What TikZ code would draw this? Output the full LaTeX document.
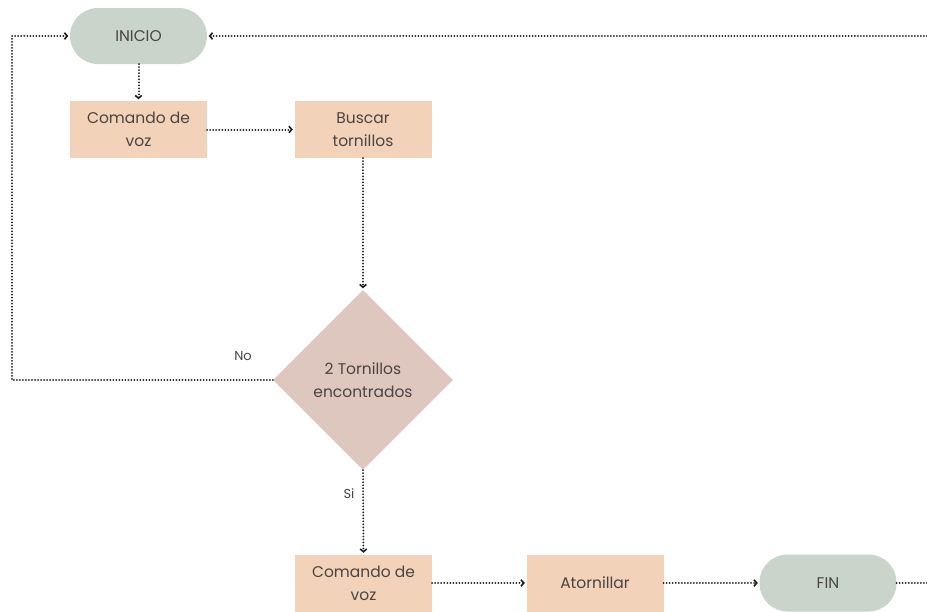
\documentclass[tikz,border=0pt]{standalone}
\usepackage{fontspec}
\setmainfont{Poppins}
\usetikzlibrary{arrows.meta,shapes.geometric}
\definecolor{sage}{HTML}{C9D4CB}
\definecolor{peach}{HTML}{F2D2B9}
\definecolor{mauve}{HTML}{DDC7BE}
\definecolor{ink}{HTML}{4A4543}
\definecolor{wire}{HTML}{1E1E1E}
\tikzset{
  base/.style={draw=none, text=ink, font=\fontsize{15.5}{23}\selectfont, align=center, inner sep=0pt},
  terminal/.style={base, fill=sage, rectangle, rounded corners=28pt, minimum width=137pt, minimum height=56pt},
  procbox/.style={base, fill=peach, rectangle, minimum width=137pt, minimum height=57pt},
  decision/.style={base, fill=mauve, diamond, aspect=1, minimum width=180pt, minimum height=180pt},
  wirestyle/.style={draw=wire, line width=2pt, line cap=round, dash pattern=on 0.01pt off 3pt},
  flow/.style={wirestyle, -{Straight Barb[length=2.8pt, width=6.5pt, line width=1.6pt, line cap=butt]}, shorten >=1.5pt},
  lbl/.style={text=ink, font=\fontsize{13}{15}\selectfont, inner sep=0pt}
}
\begin{document}
\begin{tikzpicture}[x=1pt, y=-1pt]
\useasboundingbox (0,0) rectangle (927,611);
\fill[white] (0,0) rectangle (927,611);
\clip (0,0) rectangle (927,611);

% nodes
\node[terminal] (inicio) at (138.5,36) {INICIO};
\node[procbox] (cmd1) at (138.5,129.5) {Comando de\\voz};
\node[procbox] (buscar) at (363,129.5) {Buscar\\tornillos};
\node[decision] (dec) at (363,380) {2 Tornillos\\encontrados};
\node[procbox] (cmd2) at (363.5,583) {Comando de\\voz};
\node[procbox] (aton) at (595,583) {Atornillar};
\node[terminal, minimum height=57pt] (fin) at (828,583) {FIN};

% loose ends of the return loop
\coordinate (outtop) at (930,36);
\coordinate (outfin) at (930,583);
\coordinate (leftrail) at (12,380);

% connectors
\draw[flow] (inicio) -- (cmd1);
\draw[flow] (cmd1) -- (buscar);
\draw[flow] (buscar) -- (dec);
\draw[flow] (dec.south) -- (cmd2.north);
\draw[flow] (cmd2) -- (aton);
\draw[flow] (aton) -- (fin);
\draw[wirestyle] (fin.east) -- (outfin);
\draw[flow] (outtop) -- (inicio.east);
\draw[flow] (dec.west) -- (leftrail) |- (inicio.west);

% branch labels
\node[lbl] (no) at (243,356) {No};
\node[lbl] (si) at (349,494) {Si};
\end{tikzpicture}
\end{document}
